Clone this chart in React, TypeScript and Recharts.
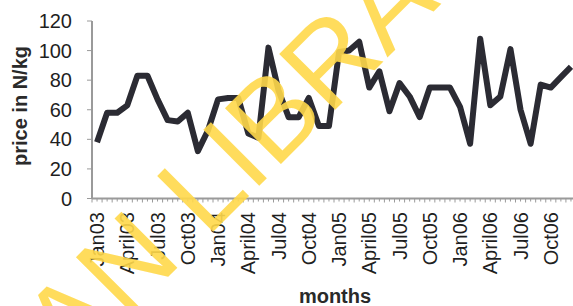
import React from 'react';
import { LineChart, Line, XAxis, YAxis, Label } from 'recharts';

const months: string[] = [
  'Jan03','Feb03','Mar03','April03','May03','Jun03','Jul03','Aug03','Sep03','Oct03','Nov03','Dec03',
  'Jan04','Feb04','Mar04','April04','May04','Jun04','Jul04','Aug04','Sep04','Oct04','Nov04','Dec04',
  'Jan05','Feb05','Mar05','April05','May05','Jun05','Jul05','Aug05','Sep05','Oct05','Nov05','Dec05',
  'Jan06','Feb06','Mar06','April06','May06','Jun06','Jul06','Aug06','Sep06','Oct06','Nov06','Dec06',
];

const prices: number[] = [
  38, 58, 58, 63, 83, 83, 67, 53, 52, 58, 32, 46,
  67, 68, 68, 44, 41, 102, 73, 55, 55, 68, 49, 49,
  99, 100, 106, 75, 86, 59, 78, 69, 55, 75, 75, 75,
  62, 37, 108, 63, 69, 101, 60, 37, 77, 75, 82, 89,
];

const tickLabels: string[] = [
  'Jan03','April03','Jul03','Oct03','Jan04','April04','Jul04','Oct04',
  'Jan05','April05','Jul05','Oct05','Jan06','April06','Jul06','Oct06',
];

const yTicks: number[] = [0, 20, 40, 60, 80, 100, 120];

const data = months.map((m, i) => ({ month: m, price: prices[i] }));

const FONT = '"Liberation Sans", Arial, sans-serif';
const AXIS = '#9a9a9a';
const TEXT = '#1f1f1f';

const XTick = (props: any) => {
  const { x, y, payload } = props;
  const show = tickLabels.includes(payload.value);
  const tx = x + 7;
  const ty = y + 13.5;
  return (
    <g>
      <line x1={x - 5.04} x2={x - 5.04} y1={y} y2={y + 4} stroke={AXIS} strokeWidth={1} />
      <line x1={x} x2={x} y1={y} y2={y + 3} stroke={AXIS} strokeWidth={1} />
      {show && (
        <text
          x={tx}
          y={ty}
          transform={`rotate(-90, ${tx}, ${ty})`}
          textAnchor="end"
          fontFamily={FONT}
          fontSize={20}
          fill={TEXT}
        >
          {payload.value}
        </text>
      )}
    </g>
  );
};

export default function App() {
  return (
    <div style={{ position: 'absolute', left: 0, top: 0, width: 573, height: 306, overflow: 'hidden', background: '#fff' }}>
      <LineChart width={576} height={306} data={data} margin={{ top: 21, right: 0, bottom: 0, left: 0 }}>
        <XAxis
          dataKey="month"
          interval={0}
          tick={<XTick />}
          tickLine={false}
          tickSize={0}
          tickMargin={0}
          height={107.5}
          padding={{ left: 5.04, right: 5.04 }}
          axisLine={{ stroke: AXIS, strokeWidth: 2 }}
        >
          <Label
            content={() => (
              <text x={335} y={303} textAnchor="middle" fontFamily={FONT} fontWeight="bold" fontSize={20} fill="#2a2a2a">
                months
              </text>
            )}
          />
        </XAxis>
        <YAxis
          domain={[0, 120]}
          ticks={yTicks}
          width={92}
          tickSize={5}
          tickMargin={15}
          tick={{ fontFamily: FONT, fontSize: 20, fill: TEXT }}
          tickLine={{ stroke: AXIS, strokeWidth: 1 }}
          axisLine={{ stroke: AXIS, strokeWidth: 2 }}
        >
          <Label
            content={() => (
              <text x={27} y={106} transform="rotate(-90, 27, 106)" textAnchor="middle" fontFamily={FONT} fontWeight="bold" fontSize={20} fill="#2a2a2a">
                price in N/kg
              </text>
            )}
          />
        </YAxis>
        <Line
          type="linear"
          dataKey="price"
          stroke="#2b2b33"
          strokeWidth={6}
          strokeLinejoin="round"
          dot={false}
          activeDot={false}
          isAnimationActive={false}
        />
      </LineChart>
      <svg width={573} height={306} style={{ position: 'absolute', left: 0, top: 0, pointerEvents: 'none' }}>
        <text
          x={0}
          y={0}
          transform="translate(71, 374) rotate(-45)"
          fontFamily={FONT}
          fontSize={115}
          fill="#FFD84A"
          fillOpacity={0.9}
        >
          AN LIBRARY
        </text>
      </svg>
    </div>
  );
}
